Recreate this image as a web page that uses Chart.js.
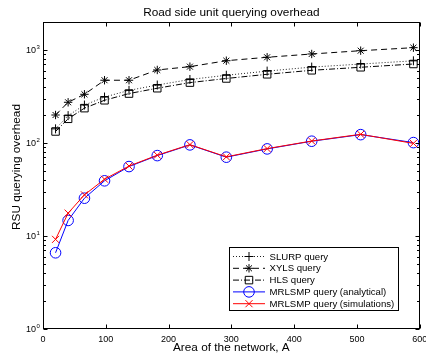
<!DOCTYPE html>
<html><head><meta charset="utf-8">
<script src="https://cdn.jsdelivr.net/npm/chart.js@4/dist/chart.umd.min.js"></script>
<style>html,body{margin:0;padding:0;background:#fff;}#wrap{width:426px;height:358px;}</style>
</head><body><div id="wrap"><canvas id="c" width="426" height="358"></canvas></div>
<script>
// ---- data ----
const areas = [20, 40, 66, 98, 137, 182, 234, 292, 357, 428, 506, 590];
const slurp = [142, 197, 256, 312, 368, 420, 482, 535, 593, 655, 706, 765];
const xyls = [200, 274, 334, 473, 473, 610, 662, 767, 835, 906, 983, 1059];
const hls = [133, 182, 237, 288, 340, 388, 446, 494, 548, 605, 652, 707];
const mrlAnalytical = [6.6, 14.7, 25.5, 39.2, 55.8, 73.2, 95.4, 70.4, 86.4, 104.5, 123, 101];
const mrlSimulations = [9.2, 17.6, 27.7, 40.8, 56.5, 74.0, 96.0, 71.0, 87.0, 105.0, 124.0, 99.0];
const xTicks = [0, 100, 200, 300, 400, 500, 600];
const yTicks = [1, 10, 100, 1000];
const yTickExp = ['0', '1', '2', '3'];
const seriesNames = ['SLURP query', 'XYLS query', 'HLS query', 'MRLSMP query (analytical)', 'MRLSMP query (simulations)'];
const titleText = 'Road side unit querying overhead';
const xTitle = 'Area of the network, A';
const yTitle = 'RSU querying overhead';

const FONT = '"Liberation Sans", Arial, Helvetica, sans-serif';
const pts = arr => arr.map((v, i) => ({x: areas[i], y: v}));

const datasets = [
  {label: seriesNames[0], data: pts(slurp), borderColor: '#222', borderWidth: 1, borderDash: [1, 2],
   pointStyle: 'cross', pointRadius: 4.5, pointBorderColor: '#000', pointBackgroundColor: 'rgba(0,0,0,0)', pointBorderWidth: 1, order: 4},
  {label: seriesNames[1], data: pts(xyls), borderColor: '#000', borderWidth: 1, borderDash: [6, 4],
   pointStyle: 'star', pointRadius: 4.2, pointBorderColor: '#000', pointBackgroundColor: 'rgba(0,0,0,0)', pointBorderWidth: 1, order: 3},
  {label: seriesNames[2], data: pts(hls), borderColor: '#000', borderWidth: 1, borderDash: [6, 2, 1, 2],
   pointStyle: 'rect', pointRadius: 5.3, pointBorderColor: '#000', pointBackgroundColor: 'rgba(0,0,0,0)', pointBorderWidth: 1, order: 2},
  {label: seriesNames[3], data: pts(mrlAnalytical), borderColor: '#0000ff', borderWidth: 1,
   pointStyle: 'circle', pointRadius: 5.3, pointBorderColor: '#0000ff', pointBackgroundColor: 'rgba(0,0,0,0)', pointBorderWidth: 1, order: 1},
  {label: seriesNames[4], data: pts(mrlSimulations), borderColor: '#ff0000', borderWidth: 1,
   pointStyle: 'crossRot', pointRadius: 5, pointBorderColor: '#ff0000', pointBackgroundColor: 'rgba(0,0,0,0)', pointBorderWidth: 1, order: 0}
];
datasets.forEach(d => { d.tension = 0; d.fill = false; d.pointHoverRadius = d.pointRadius; });

const decor = {
  id: 'decor',
  afterDraw(chart) {
    const ctx = chart.ctx, a = chart.chartArea;
    const xs = chart.scales.x, ys = chart.scales.y;
    ctx.save();
    ctx.strokeStyle = '#000'; ctx.fillStyle = '#000'; ctx.lineWidth = 1; ctx.setLineDash([]);
    const L = Math.round(a.left) + 0.5, R = Math.round(a.right) - 0.5;
    const T = Math.round(a.top) + 0.5, B = Math.round(a.bottom) - 0.5;
    ctx.strokeRect(L, T, R - L, B - T);
    ctx.beginPath();
    xTicks.forEach(v => {
      const px = Math.round(xs.getPixelForValue(v)) + 0.5;
      ctx.moveTo(px, B); ctx.lineTo(px, B - 4);
      ctx.moveTo(px, T); ctx.lineTo(px, T + 4);
    });
    for (let k = 0; k <= 3; k++) {
      for (let m = 1; m <= 9; m++) {
        const v = m * Math.pow(10, k);
        if (v > ys.max) continue;
        const py = Math.round(ys.getPixelForValue(v)) + 0.5;
        const len = m === 1 ? 4 : 2.5;
        ctx.moveTo(L, py); ctx.lineTo(L + len, py);
        ctx.moveTo(R, py); ctx.lineTo(R - len, py);
      }
    }
    ctx.stroke();
    ctx.font = '9px ' + FONT; ctx.textAlign = 'center'; ctx.textBaseline = 'middle';
    xTicks.forEach(v => ctx.fillText(String(v), xs.getPixelForValue(v), 339.5));
    yTicks.forEach((v, i) => {
      const py = ys.getPixelForValue(v);
      ctx.font = '9px ' + FONT; ctx.textAlign = 'right'; ctx.textBaseline = 'middle';
      ctx.fillText('10', 36, py + 1);
      ctx.font = '6px ' + FONT; ctx.textAlign = 'left';
      ctx.fillText(yTickExp[i], 36.5, py - 2.5);
    });
    ctx.font = '11.8px ' + FONT; ctx.textAlign = 'center'; ctx.textBaseline = 'middle';
    const cx = (a.left + a.right) / 2;
    ctx.fillText(titleText, cx, 12.5);
    ctx.fillText(xTitle, cx, 347.5);
    ctx.save(); ctx.translate(17, 167); ctx.rotate(-Math.PI / 2);
    ctx.fillText(yTitle, 0, 0); ctx.restore();
    const bx = 229.5, by = 247.5, bw = 169, bh = 63;
    ctx.fillStyle = '#fff'; ctx.fillRect(bx, by, bw, bh);
    ctx.strokeStyle = '#000'; ctx.strokeRect(bx, by, bw, bh);
    chart.data.datasets.forEach((d, i) => {
      const y = 256.5 + i * 11.8;
      ctx.save();
      ctx.strokeStyle = d.borderColor; ctx.lineWidth = 1; ctx.setLineDash(d.borderDash || []);
      ctx.beginPath(); ctx.moveTo(233, y); ctx.lineTo(265, y); ctx.stroke();
      ctx.setLineDash([]);
      ctx.strokeStyle = d.pointBorderColor; ctx.fillStyle = 'rgba(0,0,0,0)';
      Chart.helpers.drawPoint(ctx, {pointStyle: d.pointStyle, rotation: 0, radius: d.pointRadius, borderWidth: 1}, 249, y);
      ctx.restore();
      ctx.fillStyle = '#000'; ctx.font = '9.6px ' + FONT; ctx.textAlign = 'left'; ctx.textBaseline = 'middle';
      ctx.fillText(d.label, 269.5, y + 0.5);
    });
    ctx.restore();
  }
};

new Chart(document.getElementById('c'), {
  type: 'line',
  data: {datasets},
  options: {
    responsive: false, animation: false, devicePixelRatio: 1,
    layout: {padding: {left: 43, right: 1, top: 22, bottom: 29}},
    plugins: {legend: {display: false}, title: {display: false}, tooltip: {enabled: false}},
    scales: {
      x: {type: 'linear', min: 0, max: 600, display: false},
      y: {type: 'logarithmic', min: 1, max: 2000, display: false}
    }
  },
  plugins: [decor]
});
</script></body></html>
